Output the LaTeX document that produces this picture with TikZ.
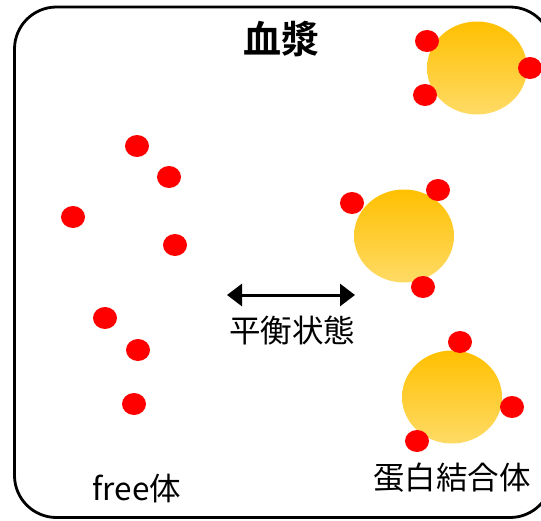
\documentclass[tikz,border=0pt]{standalone}
\usepackage{fontspec}
\newfontfamily\jpfont{Noto Sans CJK JP}
\newfontfamily\jpbold{Noto Sans CJK JP Bold}
\usetikzlibrary{shapes.geometric,arrows.meta}
\definecolor{dotred}{HTML}{FF0000}
\definecolor{protA}{HTML}{FFC000}
\definecolor{protB}{HTML}{FFDB66}
\begin{document}
\begin{tikzpicture}[x=1pt,y=-1pt,
  dot/.style={ellipse,fill=dotred,draw=none,minimum width=24pt,minimum height=22pt,inner sep=0pt},
  prot/.style={ellipse,draw=none,minimum width=100pt,minimum height=93pt,inner sep=0pt,
    top color=protA,middle color=protA,bottom color=protB},
  lbl/.style={font=\jpfont\fontsize{31.5}{34}\selectfont,inner sep=0pt}]
\useasboundingbox (0,0) rectangle (541,520);
\clip (0,0) rectangle (541,520);
\draw[line width=2.8pt,rounded corners=42pt] (14.5,7) rectangle (552,517.5);
\node[font=\jpbold\fontsize{38}{40}\selectfont,inner sep=0pt] (title) at (281,39) {血漿};
% protein-bound complexes
\node[prot] (p1) at (477,68) {};
\node[prot] (p2) at (404,236) {};
\node[prot] (p3) at (452,397) {};
\node[dot] (p1a) at (427,41) {};
\node[dot] (p1b) at (530,68) {};
\node[dot] (p1c) at (425,95) {};
\node[dot] (p2a) at (352,203) {};
\node[dot] (p2b) at (438,190) {};
\node[dot] (p2c) at (423,287) {};
\node[dot] (p3a) at (460,342) {};
\node[dot] (p3b) at (512,407) {};
\node[dot] (p3c) at (417,441) {};
% free drug
\node[dot] (f1) at (137,146) {};
\node[dot] (f2) at (169,177) {};
\node[dot] (f3) at (73,217) {};
\node[dot] (f4) at (175,245) {};
\node[dot] (f5) at (105,318) {};
\node[dot] (f6) at (138,350) {};
\node[dot] (f7) at (134,404) {};
% equilibrium arrow
\coordinate (al) at (227,295);
\coordinate (ar) at (355,295);
\draw[line width=3pt,{Triangle[length=15pt,width=22pt]}-{Triangle[length=15pt,width=22pt]}] (al) -- (ar);
\node[lbl] (eq) at (292,330) {平衡状態};
\node[lbl] (free) at (137,489) {free体};
\node[lbl] (bound) at (452,478) {蛋白結合体};
\end{tikzpicture}
\end{document}
